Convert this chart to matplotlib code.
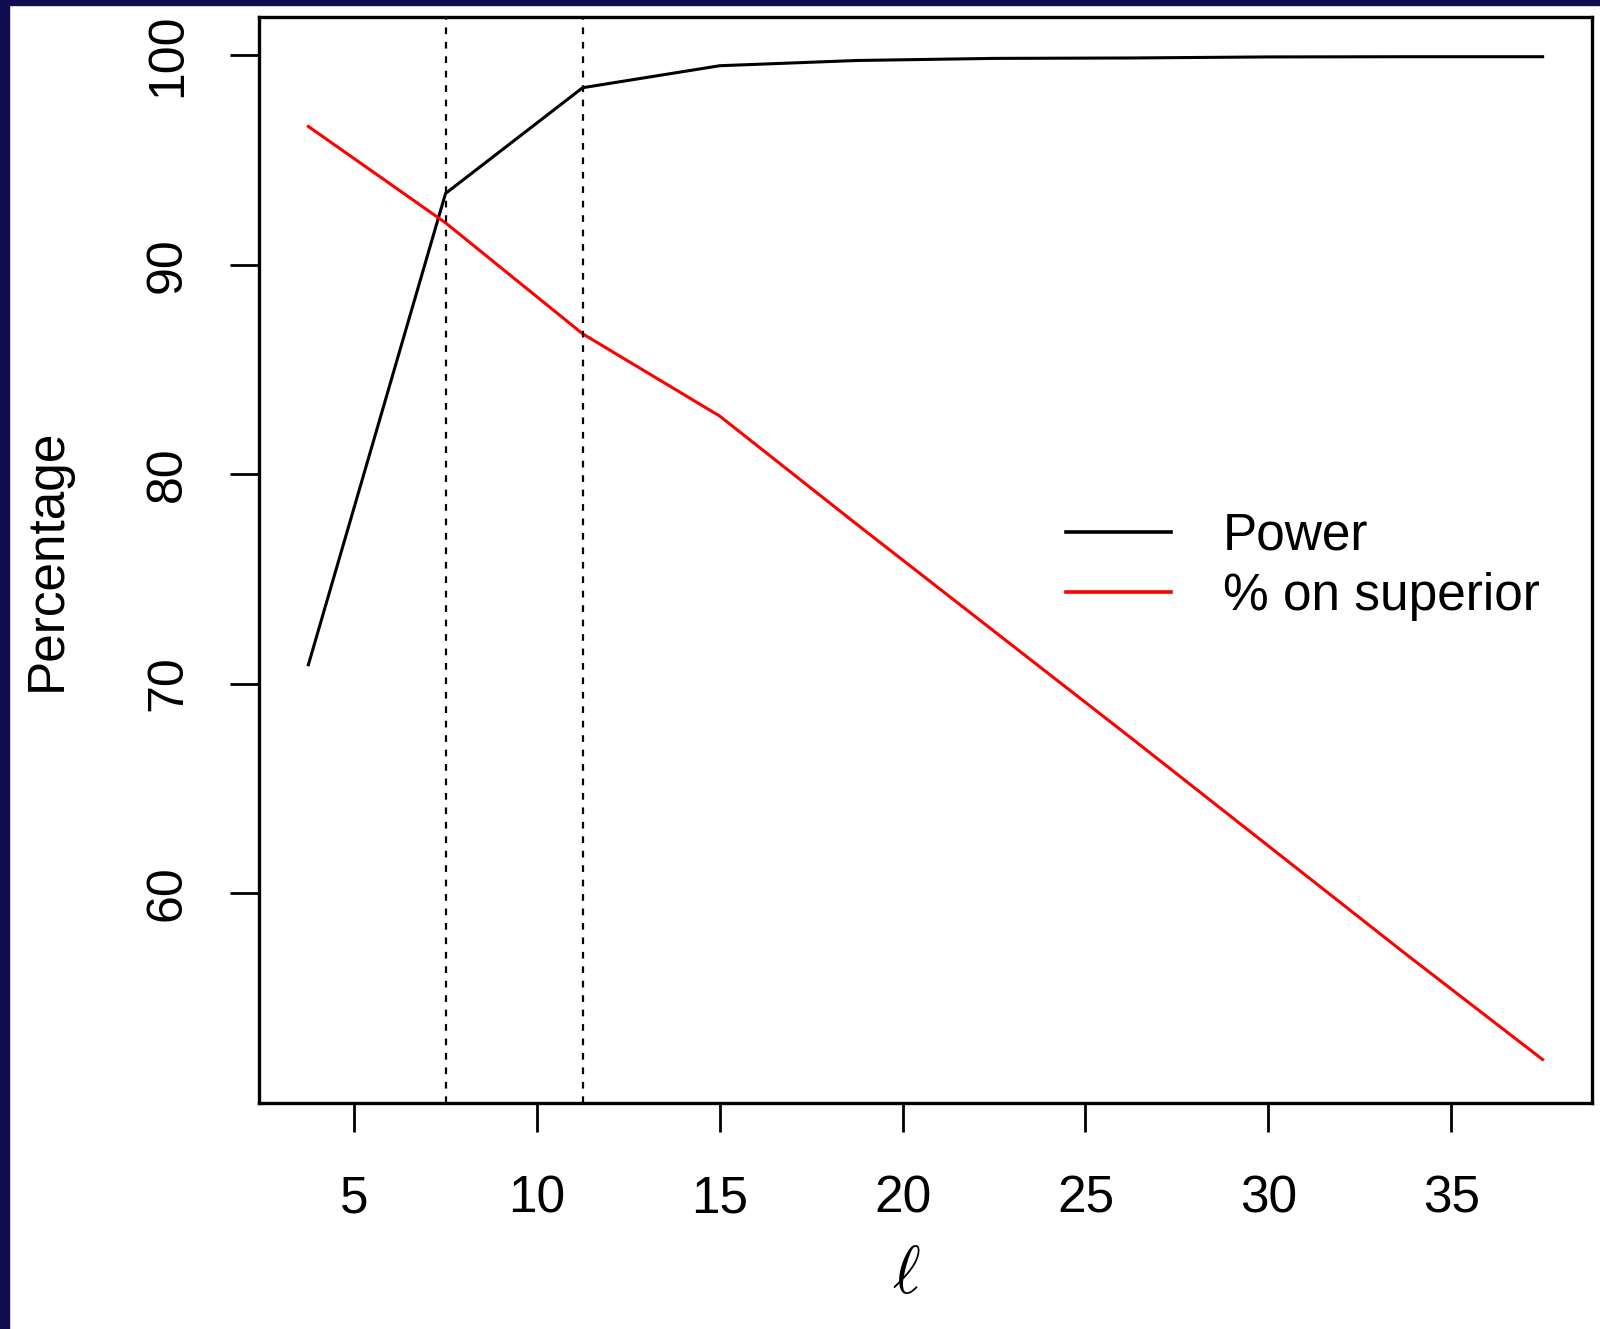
import numpy as np
import matplotlib
matplotlib.use("Agg")
from matplotlib import pyplot as plt
from matplotlib.patches import Rectangle

# data
ell = [3.75, 7.5, 11.25, 15, 18.75, 22.5, 26.25, 30, 33.75, 37.5]
power = [70.9, 93.4, 98.45, 99.5, 99.75, 99.85, 99.87, 99.92, 99.93, 99.93]
superior = [96.6, 92.0, 86.7, 82.77, 77.6, 72.5, 67.4, 62.25, 57.1, 52.05]
cutoffs = [7.5, 11.25]
xticks = [5, 10, 15, 20, 25, 30, 35]
yticks = [60, 70, 80, 90, 100]

plt.rcParams['font.family'] = ['Liberation Sans', 'DejaVu Sans']

W, H = 1600, 1329
fig = plt.figure(figsize=(W / 100, H / 100), dpi=100)

# navy border strips on top and left
fig.patches.append(Rectangle((0, 0), 9 / W, 1, transform=fig.transFigure,
                             color='#0f0d4f', zorder=0))
fig.patches.append(Rectangle((0, 1 - 5 / H), 1, 5 / H, transform=fig.transFigure,
                             color='#0f0d4f', zorder=0))

left, right = 259 / W, 1592 / W
top, bottom = 1 - 16.5 / H, 1 - 1102.5 / H
ax = fig.add_axes([left, bottom, right - left, top - bottom])

ax.plot(ell, power, color='black', lw=2.2, label='Power')
ax.plot(ell, superior, color='red', lw=2.2, label='% on superior')
for c in cutoffs:
    ax.axvline(c, color='black', lw=1.6, linestyle=(0, (3, 3.5)))

ax.set_xlim(2.4, 38.85)
ax.set_ylim(50.0, 101.85)
ax.set_xticks(xticks)
ax.set_yticks(yticks)
for s in ax.spines.values():
    s.set_linewidth(2.4)
ax.tick_params(axis='both', length=21, width=2.0)
ax.tick_params(axis='x', labelsize=37, pad=31)
ax.tick_params(axis='y', labelsize=36, pad=28)
plt.setp(ax.get_yticklabels(), rotation=90, va='center')

ax.set_ylabel('Percentage', fontsize=37)
ax.yaxis.set_label_coords((72 - 259) / 1333, 0.5)
ax.set_xlabel(r'$\ell$', fontsize=48, math_fontfamily='cm')
ax.xaxis.set_label_coords((906 - 259) / 1333, -(1245 - 1102.5) / 1086)

leg = ax.legend(loc='upper left', bbox_to_anchor=((1066 - 259) / 1333, 1 - (512 - 16.5) / 1086),
                frameon=False, fontsize=37, handlelength=2.05, handletextpad=1.0,
                labelspacing=0.22, borderaxespad=0, borderpad=0)
for h in leg.get_lines():
    h.set_linewidth(2.6)

fig.savefig("out.png", dpi=100)
